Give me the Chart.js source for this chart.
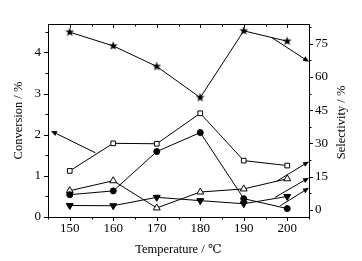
<!DOCTYPE html>
<html><head><meta charset="utf-8">
<script src="https://cdn.jsdelivr.net/npm/chart.js@4/dist/chart.umd.min.js"></script>
<style>html,body{margin:0;padding:0;background:#fff}#wrap{width:362px;height:261px}</style>
</head><body><div id="wrap"><canvas id="c" width="362" height="261"></canvas></div>
<script>
// ---- data ----
const temperatures = [150, 160, 170, 180, 190, 200];
const conversion = [1.12, 1.79, 1.78, 2.52, 1.37, 1.25];      // open squares, left axis
const selStar = [80.3, 74.1, 64.8, 50.7, 80.9, 76.2];          // filled stars, right axis
const selCircle = [6.8, 8.5, 26.3, 34.9, 5.0, 0.5];            // filled circles, right axis
const selTriangle = [8.6, 13.1, 0.8, 8.0, 9.4, 14.0];          // open triangles, right axis
const selDownTri = [1.9, 1.8, 5.6, 4.1, 2.7, 6.0];             // filled down triangles, right axis
const xTickLabels = [150, 160, 170, 180, 190, 200];
const leftTickLabels = [0, 1, 2, 3, 4];
const rightTickLabels = [0, 15, 30, 45, 60, 75];
const rightTitle = 'Selectivity / %';
// annotation arrows in data units: [xFrom, yFrom, xTo, yTo]
const arrowSquare = [155.9, 1.56, 145.7, 2.09];   // to left axis
const arrowStar = [196.4, 77.9, 205, 66.9];       // to right axis
const arrowTri = [197.6, 12.9, 205, 21.8];
const arrowDown = [197.2, 5.6, 205, 14.5];
const arrowCircle = [198.4, 1.8, 205, 9.9];

const pts = arr => temperatures.map((t, i) => ({x: t, y: arr[i]}));

// filled 5-point star marker
function makeStar(size) {
  const c = document.createElement('canvas');
  c.width = size; c.height = size;
  const g = c.getContext('2d');
  const cx = size / 2, cy = size / 2, R = size / 2 - 0.3, r = R * 0.42;
  g.beginPath();
  for (let i = 0; i < 10; i++) {
    const ang = -Math.PI / 2 + i * Math.PI / 5;
    const rad = i % 2 === 0 ? R : r;
    const px = cx + rad * Math.cos(ang), py = cy + rad * Math.sin(ang);
    i === 0 ? g.moveTo(px, py) : g.lineTo(px, py);
  }
  g.closePath(); g.fillStyle = '#000'; g.fill();
  return c;
}
const starImg = makeStar(10);

const tickFont = {family: '"Liberation Serif", "Times New Roman", serif', size: 13};
const titleFont = {family: '"Liberation Serif", "DejaVu Serif", serif', size: 12.5};

const framePlugin = {
  id: 'frame',
  afterDraw(chart) {
    const ctx = chart.ctx, a = chart.chartArea;
    const sx = chart.scales.x, sy = chart.scales.y, sr = chart.scales.y2;
    ctx.save();
    ctx.strokeStyle = '#000'; ctx.lineWidth = 1;
    ctx.beginPath();
    ctx.moveTo(a.left, a.top + 0.5); ctx.lineTo(a.right, a.top + 0.5);
    for (let v = 145; v <= 205; v += 5) {
      const p = Math.round(sx.getPixelForValue(v)) + 0.5;
      const L = v % 10 === 0 ? 4 : 2.5;
      ctx.moveTo(p, a.bottom); ctx.lineTo(p, a.bottom + L);
      ctx.moveTo(p, a.top); ctx.lineTo(p, a.top + L);
    }
    for (let v = 0; v <= 4.5; v += 0.5) {
      const p = Math.round(sy.getPixelForValue(v)) + 0.5;
      const L = Number.isInteger(v) ? 4 : 2.5;
      ctx.moveTo(a.left, p); ctx.lineTo(a.left - L, p);
    }
    for (let v = 0; v <= 82.5; v += 7.5) {
      const p = Math.round(sr.getPixelForValue(v)) + 0.5;
      const L = v % 15 === 0 ? 4 : 2.5;
      ctx.moveTo(a.right, p); ctx.lineTo(a.right + L, p);
    }
    ctx.stroke();

    const arrow = (arr, scale) => {
      const x0 = sx.getPixelForValue(arr[0]), y0 = scale.getPixelForValue(arr[1]);
      const x1 = sx.getPixelForValue(arr[2]), y1 = scale.getPixelForValue(arr[3]);
      const ang = Math.atan2(y1 - y0, x1 - x0);
      const hl = 6, hw = 2.6;
      const bx = x1 - hl * Math.cos(ang), by = y1 - hl * Math.sin(ang);
      ctx.beginPath(); ctx.moveTo(x0, y0); ctx.lineTo(bx, by); ctx.stroke();
      ctx.beginPath();
      ctx.moveTo(x1, y1);
      ctx.lineTo(bx + hw * Math.sin(ang), by - hw * Math.cos(ang));
      ctx.lineTo(bx - hw * Math.sin(ang), by + hw * Math.cos(ang));
      ctx.closePath(); ctx.fillStyle = '#000'; ctx.fill();
    };
    arrow(arrowSquare, sy);
    arrow(arrowStar, sr);
    arrow(arrowTri, sr);
    arrow(arrowDown, sr);
    arrow(arrowCircle, sr);

    // right axis title, reading bottom-to-top like the original
    ctx.translate(sr.right - 20, (a.top + a.bottom) / 2 + 2);
    ctx.rotate(-Math.PI / 2);
    ctx.font = '12.5px "Liberation Serif", serif';
    ctx.fillStyle = '#000';
    ctx.textAlign = 'center'; ctx.textBaseline = 'middle';
    ctx.fillText(rightTitle, 0, 0);
    ctx.restore();
  }
};

const common = {borderColor: '#000', borderWidth: 1, pointBorderColor: '#000', pointBorderWidth: 1, tension: 0, fill: false};

new Chart(document.getElementById('c'), {
  type: 'line',
  data: {
    datasets: [
      Object.assign({}, common, {label: 'Conversion', data: pts(conversion), yAxisID: 'y', pointStyle: 'rect', pointRadius: 3.3, pointBackgroundColor: '#fff'}),
      Object.assign({}, common, {label: 'Star', data: pts(selStar), yAxisID: 'y2', pointStyle: starImg, pointRadius: 5}),
      Object.assign({}, common, {label: 'Circle', data: pts(selCircle), yAxisID: 'y2', pointStyle: 'circle', pointRadius: 3, pointBackgroundColor: '#000'}),
      Object.assign({}, common, {label: 'Triangle', data: pts(selTriangle), yAxisID: 'y2', pointStyle: 'triangle', pointRadius: 4, pointBackgroundColor: '#fff'}),
      Object.assign({}, common, {label: 'DownTri', data: pts(selDownTri), yAxisID: 'y2', pointStyle: 'triangle', pointRotation: 180, pointRadius: 4, pointBackgroundColor: '#000'})
    ]
  },
  options: {
    responsive: false, animation: false,
    layout: {padding: {top: 24, left: 0, right: 0, bottom: 0}},
    plugins: {legend: {display: false}, tooltip: {enabled: false}},
    scales: {
      x: {
        type: 'linear', min: 145, max: 205,
        afterBuildTicks: s => { s.ticks = xTickLabels.map(v => ({value: v})); },
        afterFit: s => { s.height = 44; },
        grid: {display: false, drawTicks: false},
        border: {display: true, color: '#000', width: 1},
        ticks: {color: '#000', font: tickFont, padding: 4, maxRotation: 0},
        title: {display: true, text: 'Temperature / ℃', color: '#000', font: titleFont, padding: {top: 0, bottom: 4}}
      },
      y: {
        position: 'left', min: 0, max: 4.69,
        afterBuildTicks: s => { s.ticks = leftTickLabels.map(v => ({value: v})); },
        afterFit: s => { s.width = 48; },
        grid: {display: false, drawTicks: false},
        border: {display: true, color: '#000', width: 1},
        ticks: {color: '#000', font: tickFont, padding: 7},
        title: {display: true, text: 'Conversion / %', color: '#000', font: titleFont, padding: {top: 11, bottom: 0}}
      },
      y2: {
        position: 'right', min: -3.3, max: 84,
        afterBuildTicks: s => { s.ticks = rightTickLabels.map(v => ({value: v})); },
        afterFit: s => { s.width = 53; },
        grid: {display: false, drawTicks: false},
        border: {display: true, color: '#000', width: 1},
        ticks: {color: '#000', font: tickFont, padding: 6},
        title: {display: false}
      }
    }
  },
  plugins: [framePlugin]
});
</script>
</body></html>
